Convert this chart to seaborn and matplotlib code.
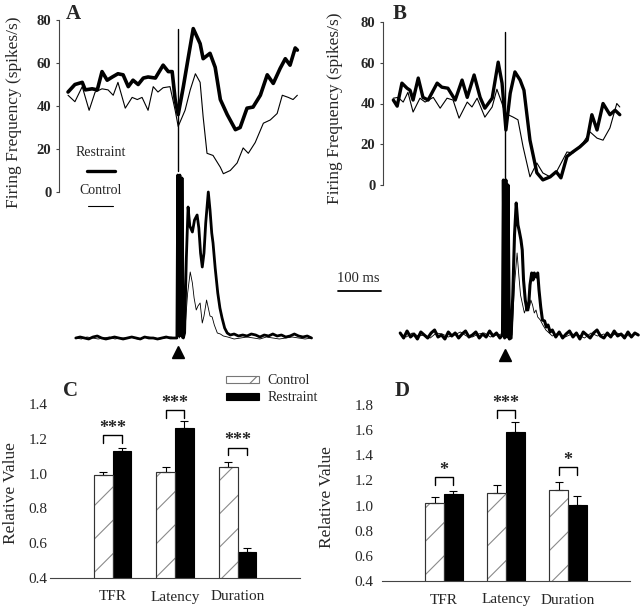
import numpy as np
import pandas as pd
import matplotlib
matplotlib.use("Agg")
import matplotlib.pyplot as plt
import seaborn as sns
from matplotlib.patches import Patch, Rectangle
from matplotlib.lines import Line2D

# ---------------- data ----------------
# Panel A firing frequency (time in ms relative to stimulus)
a_rest_t = [-256, -240, -223, -216, -200, -188, -177, -165, -153, -140, -128, -116, -105, -93, -81, -70, -53, -35,
            -23, -14, -7, 0, 12, 23, 35, 51, 58, 74, 86, 98, 114, 133, 144, 160, 174, 191, 207, 221, 237, 249, 260,
            272, 277]
a_rest_v = [46.5, 50, 51, 47.5, 48, 47.5, 56, 52, 53.5, 55, 54.5, 49, 52, 50, 53, 53.5, 53, 59, 56, 56, 43, 36, 49,
            62, 76, 69, 62, 64.5, 58, 43, 36, 29, 30, 39, 39.5, 45, 54.5, 50.5, 57.5, 62, 59, 67, 66]
a_ctrl_t = [-256, -240, -223, -207, -193, -177, -163, -151, -140, -123, -107, -95, -84, -70, -58, -47, -35, -19, -7,
            0, 16, 28, 40, 51, 58, 67, 81, 98, 105, 121, 137, 151, 163, 179, 198, 214, 230, 242, 256, 267, 277]
a_ctrl_v = [45, 42, 49, 38, 46.5, 48, 47.5, 45, 51, 39, 44, 43, 44, 38, 49, 46.5, 48.5, 49, 38, 30.5, 38, 47.5, 55,
            51, 35, 18, 17, 11.5, 8.5, 10, 13.5, 20.5, 18, 23, 32, 33.5, 36.5, 45, 44, 43, 45]

# Panel B firing frequency
b_rest_t = [-260, -251, -240, -228, -221, -214, -202, -191, -179, -158, -147, -133, -116, -100, -88, -72, -58, -47,
            -30, -16, -7, 2, 12, 23, 35, 44, 58, 74, 88, 105, 119, 130, 144, 158, 174, 191, 202, 214, 228, 244, 256,
            267]
b_rest_v = [41.7, 38.7, 50, 47.5, 46.5, 41.7, 52.5, 43, 41.7, 50, 48, 47.5, 41.7, 51.5, 43, 54, 43, 37.7, 42.6, 60.3,
            50, 27, 45, 55.5, 51.5, 46.5, 22, 6, 2.5, 4, 6.5, 3.5, 14, 16.3, 18.7, 22, 34.5, 27, 40, 34.5, 36.7, 34.5]
b_ctrl_t = [-260, -249, -237, -226, -214, -198, -186, -167, -151, -135, -121, -107, -88, -77, -65, -47, -30, -19, -7,
            0, 7, 19, 30, 42, 58, 74, 88, 105, 121, 144, 158, 181, 198, 214, 228, 244, 260, 267]
b_ctrl_v = [42.6, 43, 40.7, 45.5, 35.8, 42.6, 40.7, 43, 37.7, 42.6, 41.7, 32.8, 40.7, 38.3, 42.6, 33.3, 38.3, 47, 40,
            35.3, 34.5, 33.3, 32, 18.7, 4, 10.8, 5.9, 4, 7, 16.2, 15.7, 20.6, 26, 23, 22, 28, 40, 38.3]

stim_time = [0, 0]
a_stim_line = [10, 76]
b_stim_line = [2.5, 75]

# Raw response traces (arbitrary units, baseline = 0)
ra_t = [-238, -228, -218, -208, -198, -188, -178, -168, -158, -148, -138, -128, -118, -108, -98, -88, -78, -68, -58,
        -48, -38, -28, -18, -8,
        -3, -1, 2, 4, 7, 9, 12, 15, 19, 23, 27, 33, 38, 44, 48, 52, 56, 60, 64, 70, 74, 78, 81, 86, 92, 97, 102, 108,
        114, 121,
        130, 140, 150, 160, 170, 180, 190, 200, 210, 220, 230, 240, 250, 260, 270, 280, 290, 300, 310]
ra_v = [0, 1, 0, -1, 1, 2, 0, -1, 0, 1, 0, -1, 0, 1, 0, -1, 1, 0, 0, -1, 0, 1, 0, 0,
        0, 163, 2, 163, 2, 160, 0, 5, 80, 131, 112, 106, 118, 123, 110, 85, 71, 85, 115, 146, 128, 105, 95, 70, 45, 30,
        20, 10, 5, 3,
        4, 2, 3, 2, 4, 3, 1, 3, 2, 4, 2, 3, 1, 2, 4, 2, 1, 2, 0]
ca_t = [-238, -225, -212, -199, -186, -173, -160, -147, -134, -121, -108, -95, -82, -69, -56, -43, -30, -17, -6,
        -2, 0, 3, 5, 8, 12, 16, 22, 28, 33, 37, 42, 46, 51, 56, 60, 66, 70, 74, 79, 84, 91, 98, 105,
        115, 130, 145, 160, 175, 190, 205, 220, 235, 250, 265, 280, 295, 310]
ca_v = [0, -1, 1, 0, -1, 0, 1, -1, 0, 0, 1, -1, 0, 1, 0, -1, 0, 1, 0,
        0, 150, 0, 150, 0, 0, 10, 45, 66, 55, 40, 28, 32, 35, 15, 22, 38, 30, 22, 21, 13, 5, 4, 2,
        1, -1, 0, 1, 0, -1, 1, 0, -1, 0, 1, 0, -1, 0]
rb_t = [-244, -236, -228, -220, -212, -204, -196, -188, -180, -172, -164, -156, -148, -140, -132, -124, -116, -108,
        -100, -92, -84, -76, -68, -60, -52, -44, -36, -28, -20, -12,
        -6, -4, -1, 2, 5, 7, 10, 14, 18, 22, 26, 30, 33, 37, 40, 43, 47, 51, 55, 58, 62, 65, 68, 72, 76, 79, 83, 87,
        92, 96, 100, 105, 110,
        118, 126, 134, 142, 150, 158, 166, 174, 182, 190, 198, 206, 214, 222, 230, 238, 246, 254, 262, 270, 278, 286,
        294, 302, 310]
rb_v = [2, -3, 4, -2, 1, -4, 3, 0, -3, 2, 5, -2, 0, -4, 3, -1, 2, -3, 1, 4, -2, 0, 3, -3, 1, -2, 4, -1, 2, -3,
        0, 155, -3, 155, -2, 150, -4, -3, 40, 100, 132, 110, 104, 95, 85, 55, 35, 25, 30, 50, 62, 55, 62, 58, 62, 45,
        28, 15, 14, 8, 10, 3, 5,
        -2, 3, -3, 1, 4, -2, 2, -4, 3, 0, -3, 2, 5, -1, -3, 2, -2, 4, -1, 1, -3, 3, -2, 2, 0]
cb_t = [-244, -230, -216, -202, -188, -174, -160, -146, -132, -118, -104, -90, -76, -62, -48, -34, -20, -8,
        -5, -3, 0, 3, 6, 10, 16, 22, 28, 32, 36, 40, 45, 50, 55, 60, 64, 68, 72, 76, 82, 88, 95, 100,
        110, 125, 140, 155, 170, 185, 200, 215, 230, 245, 260, 275, 290, 305]
cb_v = [1, -2, 2, -1, 0, -3, 2, 1, -2, 0, 3, -1, -2, 1, 2, -2, 0, 1,
        0, 145, 0, 145, 0, -2, 0, 50, 82, 60, 40, 32, 22, 28, 24, 35, 30, 22, 25, 18, 15, 10, 5, 3,
        -1, 2, -2, 1, 0, -3, 2, -1, 1, -2, 2, 0, -1, 1]

# Bar panels
categories = ["TFR", "Latency", "Duration"]
groups = ["Control", "Restraint"]
c_ctrl = [0.99, 1.01, 1.04]
c_ctrl_err = [0.02, 0.03, 0.027]
c_rest = [1.13, 1.26, 0.55]
c_rest_err = [0.02, 0.04, 0.02]
c_bracket = [1.22, 1.365, 1.15]
c_stars = ["***", "***", "***"]
c_yticks = [0.4, 0.6, 0.8, 1.0, 1.2, 1.4]

d_ctrl = [1.02, 1.10, 1.125]
d_ctrl_err = [0.048, 0.062, 0.06]
d_rest = [1.09, 1.585, 1.005]
d_rest_err = [0.028, 0.077, 0.07]
d_bracket = [1.23, 1.76, 1.31]
d_stars = ["*", "***", "*"]
d_yticks = [0.4, 0.6, 0.8, 1.0, 1.2, 1.4, 1.6, 1.8]

fr_yticks = [0, 20, 40, 60, 80]

# ---------------- style ----------------
sns.set_style("ticks")
plt.rcParams["font.family"] = ["Liberation Serif", "DejaVu Serif"]
plt.rcParams["hatch.linewidth"] = 0.8

W, H = 640, 610
fig = plt.figure(figsize=(6.4, 6.1), dpi=100)


def box(l, t, r, b):
    return [l / W, 1 - b / H, (r - l) / W, (b - t) / H]


def fp(x, y):
    return (x / W, 1 - y / H)


def fr_panel(rect, xlim, rest_t, rest_v, ctrl_t, ctrl_v, stim_line, thick):
    ax = fig.add_axes(rect)
    ax.set_facecolor("none")
    sns.lineplot(x=ctrl_t, y=ctrl_v, ax=ax, color="black", lw=0.8, estimator=None, errorbar=None)
    sns.lineplot(x=rest_t, y=rest_v, ax=ax, color="black", lw=thick, estimator=None, errorbar=None)
    ax.plot(stim_time, stim_line, color="black", lw=1.0, clip_on=False)
    for ln in ax.lines:
        ln.set_clip_on(False)
        ln.set_solid_joinstyle("round")
    ax.set_xlim(*xlim)
    ax.set_ylim(0, 80)
    ax.set_yticks(fr_yticks)
    ax.set_yticklabels([str(v) for v in fr_yticks], fontsize=10.5, fontweight="bold")
    ax.set_xticks([])
    ax.set_xlabel("")
    for s in ["top", "right", "bottom"]:
        ax.spines[s].set_visible(False)
    ax.spines["left"].set_color("#444444")
    ax.spines["left"].set_linewidth(0.8)
    ax.tick_params(axis="y", length=2.5, width=0.8, pad=3, color="#444444")
    return ax


def raw_panel(rect, xlim, ylim, rest_t, rest_v, ctrl_t, ctrl_v, thick, tri_y):
    ax = fig.add_axes(rect)
    ax.set_facecolor("none")
    sns.lineplot(x=rest_t, y=rest_v, ax=ax, color="black", lw=thick, estimator=None, errorbar=None)
    sns.lineplot(x=ctrl_t, y=ctrl_v, ax=ax, color="black", lw=0.6, estimator=None, errorbar=None)
    ax.plot(stim_time[:1], [tri_y], marker="^", ms=8, color="black", ls="none", clip_on=False)
    for ln in ax.lines:
        ln.set_clip_on(False)
    ax.set_xlim(*xlim)
    ax.set_ylim(*ylim)
    ax.axis("off")
    return ax


# Panel A
xlimA = (-277, 318)
axA = fr_panel(box(59, 20, 315, 192), xlimA, a_rest_t, a_rest_v, a_ctrl_t, a_ctrl_v, a_stim_line, 2.6)
rawA = raw_panel(box(59, 170, 315, 345), xlimA, (-7, 168), ra_t, ra_v, ca_t, ca_v, 2.0, -14)

# Panel B
xlimB = (-284, 314)
axB = fr_panel(box(383, 22, 640, 185), xlimB, b_rest_t, b_rest_v, b_ctrl_t, b_ctrl_v, b_stim_line, 2.4)
rawB = raw_panel(box(383, 170, 640, 345), xlimB, (-10, 165), rb_t, rb_v, cb_t, cb_v, 2.2, -20)

# scale bar (100 ms) in raw B data units
rawB.plot([-388, -288], [44, 44], color="black", lw=1.3, clip_on=False)
fig.text(*fp(358, 278), "100 ms", fontsize=10.5, ha="center", va="center")

for x, y in [(14, 112), (335, 108)]:
    fig.text(*fp(x, y), "Firing Frequency (spikes/s)", rotation=90, fontsize=12.5, ha="center", va="center")

# A legend (drawn lines)
fig.text(*fp(101, 153), "Restraint", fontsize=10, ha="center", va="center")
fig.add_artist(Line2D([87 / W, 115 / W], [1 - 171 / H, 1 - 171 / H], color="black", lw=2.4))
fig.text(*fp(101, 191), "Control", fontsize=10, ha="center", va="center")
fig.add_artist(Line2D([88 / W, 113 / W], [1 - 206 / H, 1 - 206 / H], color="black", lw=0.8))

# ---------------- bar panels ----------------


def bar_panel(rect, ctrl, ctrl_err, rest, rest_err, ylim, yticks, brackets, stars, leg_depth, star_off, tick_pad):
    ax = fig.add_axes(rect)
    ax.set_facecolor("none")
    df = pd.DataFrame({"cat": categories * 2,
                       "group": [groups[0]] * 3 + [groups[1]] * 3,
                       "val": ctrl + rest})
    sns.barplot(data=df, x="cat", y="val", hue="group", order=categories, hue_order=groups,
                palette={"Control": "white", "Restraint": "black"}, width=0.6, errorbar=None,
                ax=ax, legend=False, edgecolor="black", linewidth=0.8, saturation=1)
    ctrl_p = [p for p in ax.patches if p.get_facecolor()[0] > 0.5]
    rest_p = [p for p in ax.patches if p.get_facecolor()[0] <= 0.5]
    ctrl_p.sort(key=lambda p: p.get_x())
    rest_p.sort(key=lambda p: p.get_x())
    for p in ctrl_p:
        p.set_hatch("/")
        p.set_edgecolor("#8a8a8a")
        ax.add_patch(Rectangle(p.get_xy(), p.get_width(), p.get_height(), fill=False,
                               edgecolor="#333333", lw=0.8, zorder=p.get_zorder() + 0.1))
    for plist, vals, errs in [(ctrl_p, ctrl, ctrl_err), (rest_p, rest, rest_err)]:
        xs = [p.get_x() + p.get_width() / 2 for p in plist]
        ax.errorbar(xs, vals, yerr=[[0] * len(vals), errs], fmt="none", ecolor="black",
                    elinewidth=0.8, capsize=3, capthick=0.8, zorder=1)
    for i, (top, s) in enumerate(zip(brackets, stars)):
        xl = ctrl_p[i].get_x() + ctrl_p[i].get_width() / 2
        xr = rest_p[i].get_x() + rest_p[i].get_width() / 2
        ax.plot([xl, xl, xr, xr], [top - leg_depth, top, top, top - leg_depth], color="black", lw=1.0,
                clip_on=False)
        ax.text((xl + xr) / 2, top + star_off, s, ha="center", va="baseline", fontsize=13,
                fontweight="bold", clip_on=False)
    ax.set_xlim(-1, 3)
    ax.set_ylim(*ylim)
    ax.set_yticks(yticks)
    ax.set_yticklabels([f"{v:.1f}" for v in yticks], fontsize=11)
    ax.set_xticks(range(3))
    ax.set_xticklabels(categories, fontsize=11)
    ax.set_xlabel("")
    ax.set_ylabel("")
    for s in ["top", "right", "left"]:
        ax.spines[s].set_visible(False)
    ax.spines["bottom"].set_color("#444444")
    ax.spines["bottom"].set_linewidth(0.8)
    ax.tick_params(axis="x", length=0, pad=9)
    ax.tick_params(axis="y", length=0, pad=tick_pad)
    return ax


axC = bar_panel(box(50, 404, 300, 578), c_ctrl, c_ctrl_err, c_rest, c_rest_err, (0.4, 1.4), c_yticks,
                c_bracket, c_stars, 0.045, 0.012, 2)
axD = bar_panel(box(382, 405, 630, 581), d_ctrl, d_ctrl_err, d_rest, d_rest_err, (0.4, 1.8), d_yticks,
                d_bracket, d_stars, 0.065, 0.015, 6)
fig.text(*fp(11, 493), "Relative Value", rotation=90, fontsize=12.5, ha="center", va="center")
fig.text(*fp(327, 497), "Relative Value", rotation=90, fontsize=12.5, ha="center", va="center")

handles = [Patch(facecolor="white", edgecolor="#777777", hatch="/", lw=0.8),
           Patch(facecolor="black", edgecolor="black", lw=0.8)]
fig.legend(handles, groups, loc="upper left", bbox_to_anchor=fp(226, 374), frameon=False, fontsize=10,
           handlelength=2.4, handleheight=0.4, handletextpad=0.6, labelspacing=0.3, borderpad=0,
           borderaxespad=0)

# panel letters
for lab, (x, y) in {"A": (73, 14), "B": (400, 14), "C": (70, 391), "D": (402, 391)}.items():
    fig.text(*fp(x, y), lab, fontsize=15, fontweight="bold", ha="center", va="center")

fig.savefig("out.png", dpi=100, facecolor="white")
